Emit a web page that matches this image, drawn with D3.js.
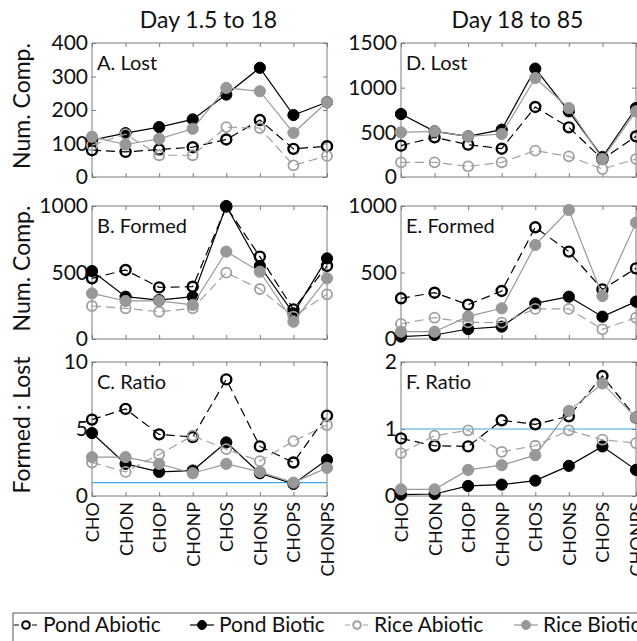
<!DOCTYPE html>
<html>
<head>
<meta charset="utf-8">
<script src="https://cdn.jsdelivr.net/npm/d3@7"></script>
<style>
  body { margin: 0; background: #fff; }
  text { font-family: Lato, "Open Sans", sans-serif; fill: #111; }
</style>
</head>
<body>
<script>
const categories = ["CHO", "CHON", "CHOP", "CHONP", "CHOS", "CHONS", "CHOPS", "CHONPS"];
const seriesNames = ["Pond Abiotic", "Pond Biotic", "Rice Abiotic", "Rice Biotic"];

// each panel: [Pond Abiotic, Pond Biotic, Rice Abiotic, Rice Biotic]
const lostEarly = [
  [80, 75, 82, 89, 112, 170, 84, 92],
  [110, 131, 149, 172, 246, 326, 185, 223],
  [95, 128, 65, 65, 149, 146, 35, 63],
  [120, 97, 114, 144, 266, 256, 132, 223]
];
const formedEarly = [
  [456, 519, 388, 393, 995, 619, 223, 549],
  [511, 318, 293, 318, 1000, 549, 193, 606],
  [248, 231, 205, 231, 499, 376, 168, 336],
  [343, 286, 286, 256, 657, 506, 130, 456]
];
const ratioEarly = [
  [5.7, 6.5, 4.6, 4.4, 8.7, 3.7, 2.5, 6.0],
  [4.7, 2.4, 1.8, 1.9, 4.0, 1.7, 0.9, 2.7],
  [2.5, 1.8, 3.1, 4.5, 3.5, 2.6, 4.1, 5.3],
  [2.9, 2.9, 2.4, 1.7, 2.4, 1.8, 1.0, 2.1]
];
const lostLate = [
  [351, 444, 362, 317, 784, 556, 200, 455],
  [705, 511, 455, 530, 1213, 735, 224, 772],
  [164, 164, 119, 164, 295, 231, 90, 201],
  [500, 511, 455, 481, 1108, 772, 201, 735]
];
const formedLate = [
  [306, 348, 258, 361, 840, 657, 373, 531],
  [18, 30, 75, 93, 268, 318, 168, 281],
  [113, 160, 125, 123, 226, 226, 73, 160],
  [55, 55, 170, 231, 707, 970, 323, 875]
];
const ratioLate = [
  [0.86, 0.75, 0.74, 1.13, 1.07, 1.19, 1.79, 1.17],
  [0.02, 0.03, 0.15, 0.17, 0.23, 0.45, 0.74, 0.39],
  [0.64, 0.9, 0.98, 0.66, 0.75, 0.98, 0.84, 0.79],
  [0.1, 0.1, 0.39, 0.46, 0.61, 1.27, 1.68, 1.17]
];

const columnTitles = ["Day 1.5 to 18", "Day 18 to 85"];

const width = 637, height = 641;
const svg = d3.select("body").append("svg")
  .attr("width", width).attr("height", height);

const cols = [[92, 327], [401, 636]];
const rows = [[43, 177], [206, 339], [362, 496]];

const styles = [
  { color: "#000", fill: "none", dash: "9,5", sw: 2.4, lw: 1.2 },
  { color: "#000", fill: "#000", dash: null, sw: 1, lw: 1.2 },
  { color: "#a0a0a0", fill: "none", dash: "9,5", sw: 1.8, lw: 1.2 },
  { color: "#989898", fill: "#989898", dash: null, sw: 1, lw: 1.2 }
];

const panels = [
  { c: 0, r: 0, data: lostEarly, max: 400, ticks: [0, 100, 200, 300, 400], label: "A. Lost" },
  { c: 0, r: 1, data: formedEarly, max: 1000, ticks: [0, 500, 1000], label: "B. Formed" },
  { c: 0, r: 2, data: ratioEarly, max: 10, ticks: [0, 5, 10], label: "C. Ratio", ref: 1 },
  { c: 1, r: 0, data: lostLate, max: 1500, ticks: [0, 500, 1000, 1500], label: "D. Lost" },
  { c: 1, r: 1, data: formedLate, max: 1000, ticks: [0, 500, 1000], label: "E. Formed" },
  { c: 1, r: 2, data: ratioLate, max: 2, ticks: [0, 1, 2], label: "F. Ratio", ref: 1 }
];

panels.forEach(p => {
  const x = d3.scalePoint().domain(categories).range(cols[p.c]);
  const y = d3.scaleLinear().domain([0, p.max]).range([rows[p.r][1], rows[p.r][0]]);
  const g = svg.append("g");
  const [x0, x1] = cols[p.c];
  const [y0, y1] = rows[p.r];

  // box
  g.append("rect").attr("x", x0).attr("y", y0)
    .attr("width", x1 - x0).attr("height", y1 - y0)
    .attr("fill", "none").attr("stroke", "#7a7a7a").attr("stroke-width", 1);

  // left axis, ticks inward
  const ax = g.append("g").attr("transform", `translate(${x0},0)`)
    .call(d3.axisLeft(y).tickValues(p.ticks).tickFormat(d => d)
      .tickSizeInner(-4).tickSizeOuter(0).tickPadding(4));
  ax.select(".domain").remove();
  ax.selectAll("line").attr("stroke", "#7a7a7a");
  ax.selectAll("text").style("font-size", "21px").attr("fill", "#111");

  g.append("g").attr("transform", `translate(${x1},0)`)
    .call(d3.axisRight(y).tickValues(p.ticks).tickSize(-4).tickFormat(""))
    .call(a => a.select(".domain").remove())
    .selectAll("line").attr("stroke", "#7a7a7a");

  g.append("g").attr("transform", `translate(0,${y0})`)
    .call(d3.axisTop(x).tickSize(-4).tickFormat(""))
    .call(a => a.select(".domain").remove())
    .selectAll("line").attr("stroke", "#7a7a7a");

  const bx = g.append("g").attr("transform", `translate(0,${y1})`)
    .call(d3.axisBottom(x).tickSize(-4).tickSizeOuter(0));
  bx.select(".domain").remove();
  bx.selectAll("line").attr("stroke", "#7a7a7a");
  if (p.r === 2) {
    bx.selectAll("text")
      .style("font-size", "18px").attr("fill", "#111")
      .attr("transform", "rotate(-90)")
      .attr("x", -6).attr("y", 0).attr("dy", "0.36em")
      .attr("text-anchor", "end");
  } else {
    bx.selectAll("text").remove();
  }

  if (p.ref !== undefined) {
    g.append("line").attr("x1", x0).attr("x2", x1)
      .attr("y1", y(p.ref)).attr("y2", y(p.ref))
      .attr("stroke", "#3ea6e0").attr("stroke-width", 1.2);
  }

  g.append("text").attr("x", x0 + 5).attr("y", y0 + 27)
    .style("font-size", "20px").text(p.label);

  const line = d3.line().x((d, i) => x(categories[i])).y(d => y(d));
  p.data.forEach((vals, si) => {
    const s = styles[si];
    g.append("path").datum(vals).attr("d", line)
      .attr("fill", "none").attr("stroke", s.color)
      .attr("stroke-width", s.lw).attr("stroke-dasharray", s.dash);
    g.selectAll(null).data(vals).join("circle")
      .attr("cx", (d, i) => x(categories[i])).attr("cy", d => y(d))
      .attr("r", s.fill === "none" ? 5 : 5.6)
      .attr("fill", s.fill).attr("stroke", s.color).attr("stroke-width", s.sw);
  });
});

// column titles
columnTitles.forEach((t, i) => {
  svg.append("text").attr("x", (cols[i][0] + cols[i][1]) / 2 - 1).attr("y", 28)
    .attr("text-anchor", "middle").style("font-size", "23px").text(t);
});

// y labels
const yLabels = [["Num. Comp.", 0], ["Num. Comp.", 1], ["Formed : Lost", 2]];
yLabels.forEach(([t, r]) => {
  const cy = (rows[r][0] + rows[r][1]) / 2 - 4;
  svg.append("text").attr("transform", `translate(30,${cy}) rotate(-90)`)
    .attr("text-anchor", "middle").style("font-size", "23px").text(t);
});

// legend
const legend = svg.append("g");
legend.append("rect").attr("x", 13).attr("y", 613).attr("width", 640).attr("height", 40)
  .attr("fill", "#fff").attr("stroke", "#555").attr("stroke-width", 1);
const legendX = [14, 190, 345, 514];
const legendY = 625;
seriesNames.forEach((name, i) => {
  const s = styles[i];
  const lx = legendX[i];
  legend.append("line").attr("x1", lx).attr("x2", lx + 24)
    .attr("y1", legendY).attr("y2", legendY)
    .attr("stroke", s.color).attr("stroke-width", 1.2)
    .attr("stroke-dasharray", s.dash ? "5,4" : null);
  legend.append("circle").attr("cx", lx + 12).attr("cy", legendY)
    .attr("r", s.fill === "none" ? 3.8 : 4.5)
    .attr("fill", s.fill === "none" ? "#fff" : s.fill)
    .attr("stroke", s.color).attr("stroke-width", s.fill === "none" ? 2 : 1);
  legend.append("text").attr("x", lx + 29).attr("y", legendY).attr("dy", "0.35em")
    .style("font-size", "21px").text(name);
});
</script>
</body>
</html>
